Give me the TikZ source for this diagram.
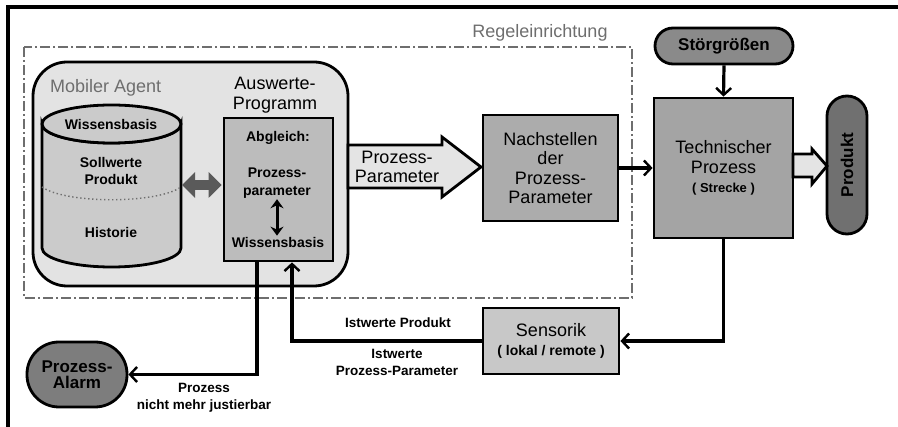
\documentclass[tikz,border=0pt]{standalone}
\usepackage{fontspec}
\setmainfont{Liberation Sans}
\usetikzlibrary{arrows.meta,calc}

\definecolor{agentbg}{HTML}{E3E3E3}
\definecolor{cylbg}{HTML}{CBCBCB}
\definecolor{innerbg}{HTML}{BCBCBC}
\definecolor{hollowbg}{HTML}{E4E4E4}
\definecolor{nachbg}{HTML}{ACACAC}
\definecolor{techbg}{HTML}{A4A4A4}
\definecolor{stoerbg}{HTML}{8A8A8A}
\definecolor{prodbg}{HTML}{707070}
\definecolor{sensbg}{HTML}{C8C8C8}
\definecolor{alarmbg}{HTML}{7D7D7D}
\definecolor{darkarrow}{HTML}{5A5A5A}
\definecolor{labelgray}{HTML}{6E6E6E}

\begin{document}
\begin{tikzpicture}[x=1pt,y=-1pt,
  box/.style={draw=black,line width=2.8pt,inner sep=0pt,align=center,text=black},
  wire/.style={line width=3.2pt,-{Straight Barb[length=7pt,width=15pt,line width=2.4pt]}},
  hollow/.style={draw=black,line width=2.8pt,fill=hollowbg,line join=miter},
  dashdot/.style={draw=labelgray,line width=1.3pt,dash pattern=on 10pt off 3pt on 2pt off 3pt},
  reg/.style={font=\fontsize{18}{19.5}\selectfont,align=center,inner sep=1pt},
  bfA/.style={font=\fontsize{14}{17.5}\selectfont\bfseries,align=center,inner sep=1pt},
  bfB/.style={font=\fontsize{13.5}{17}\selectfont\bfseries,align=center,inner sep=1pt},
  bfC/.style={font=\fontsize{17}{16}\selectfont\bfseries,align=center,inner sep=1pt},
]
\useasboundingbox (0,0) rectangle (898,427);

% outer frame (top and left edges)
\draw[line width=3.5pt] (8,427) -- (8,7) -- (898,7);

% control unit boundary
\draw[dashdot] (24,47) rectangle (632,298);
\node[reg,text=labelgray] (regel) at (540,33) {Regeleinrichtung};

% mobile agent container
\node[box,fill=agentbg,rounded corners=34pt,minimum width=315,minimum height=224] (agent) at (190.5,174) {};
\node[reg,text=labelgray,anchor=west] (agentlbl) at (49,88) {Mobiler Agent};

% knowledge base cylinder
\filldraw[fill=cylbg,draw=black,line width=2.8pt]
  (42,124) -- (42,248) arc[start angle=180,end angle=0,x radius=69.5,y radius=19]
  -- (181,124) arc[start angle=0,end angle=180,x radius=69.5,y radius=19] -- cycle;
\filldraw[fill=cylbg,draw=black,line width=2.8pt] (111.5,124) ellipse[x radius=69.5,y radius=19];
\draw[draw=labelgray,line width=1.4pt,dash pattern=on 1.4pt off 2.6pt]
  (42,187) .. controls (66,204) and (157,204) .. (181,187);
\node[bfA] (wbasis) at (111,124) {Wissensbasis};
\node[bfA] (soll) at (111,171) {Sollwerte\\Produkt};
\node[bfA] (hist) at (111,232) {Historie};
\coordinate (cylE) at (182,185);

% evaluation program
\node[reg] (ausw) at (275,95) {Auswerte-\\Programm};
\node[box,fill=innerbg,minimum width=109,minimum height=143] (abgl) at (278.5,189.5) {};
\node[bfA] (abgllbl) at (278,138) {Abgleich:};
\node[bfA] (pp) at (277,183) {Prozess-\\parameter};
\node[bfA] (wbI) at (278,242) {Wissensbasis};
\draw[line width=3pt,{Stealth[length=9pt,width=13pt]}-{Stealth[length=9pt,width=13pt]}]
  (pp.south) -- (pp.south |- wbI.north);

% exchange between knowledge base and evaluation
\draw[draw=darkarrow,line width=10pt,{Triangle[length=13pt,width=25pt]}-{Triangle[length=13pt,width=25pt]}]
  (cylE) -- ([xshift=-1pt]abgl.west |- cylE);

% process parameters (hollow arrow)
\filldraw[hollow] (348,145) -- (442,145) -- (442,137) -- (481,167) -- (442,197) -- (442,188) -- (348,188) -- cycle;
\node[reg] (pparlbl) at (397,167) {Prozess-\\Parameter};

% adjusting the parameters
\node[box,fill=nachbg,minimum width=135,minimum height=106,reg] (nach) at (550.5,168)
  {Nachstellen\\der\\Prozess-\\Parameter};

% technical process
\node[box,fill=techbg,minimum width=139,minimum height=140,reg] (tech) at (723.5,168)
  {Technischer\\Prozess\\{\fontsize{13}{15}\selectfont\bfseries ( Strecke )}};
\node[box,fill=stoerbg,rounded corners=18pt,minimum width=138,minimum height=36,bfC] (stoer) at (724,46) {Störgrößen};
\node[box,fill=prodbg,rounded corners=20pt,minimum width=40,minimum height=138] (prod) at (847,165) {};
\node[bfC,rotate=90] (prodlbl) at (prod.center) {Produkt};
\filldraw[hollow] (793,154) -- (812,154) -- (812,149) -- (827,166) -- (812,184) -- (812,177) -- (793,177) -- cycle;

% sensors and alarm
\node[box,fill=sensbg,minimum width=136,minimum height=66,reg] (sens) at (551,341)
  {Sensorik\\{\fontsize{14}{15}\selectfont\bfseries ( lokal / remote )}};
\node[box,fill=alarmbg,rounded corners=32pt,minimum width=100,minimum height=65,bfC] (alarm) at (77,374.5)
  {Prozess-\\Alarm};

% signal lines
\draw[wire] (nach.east) -- (tech.west);
\draw[wire] (stoer.south) -- (tech.north);
\draw[wire] (tech.south) |- (sens.east);
\draw[wire] (sens.west) -| ([xshift=13.5pt]abgl.south);
\draw[wire] ([xshift=-21.5pt]abgl.south) |- (alarm.east);

% line labels
\node[bfB] (istp) at (398,323) {Istwerte Produkt};
\node[bfB] (istpp) at (397,362) {Istwerte\\Prozess-Parameter};
\node[bfB] (nmj) at (204,398) {Prozess\\nicht mehr justierbar};
\end{tikzpicture}
\end{document}
